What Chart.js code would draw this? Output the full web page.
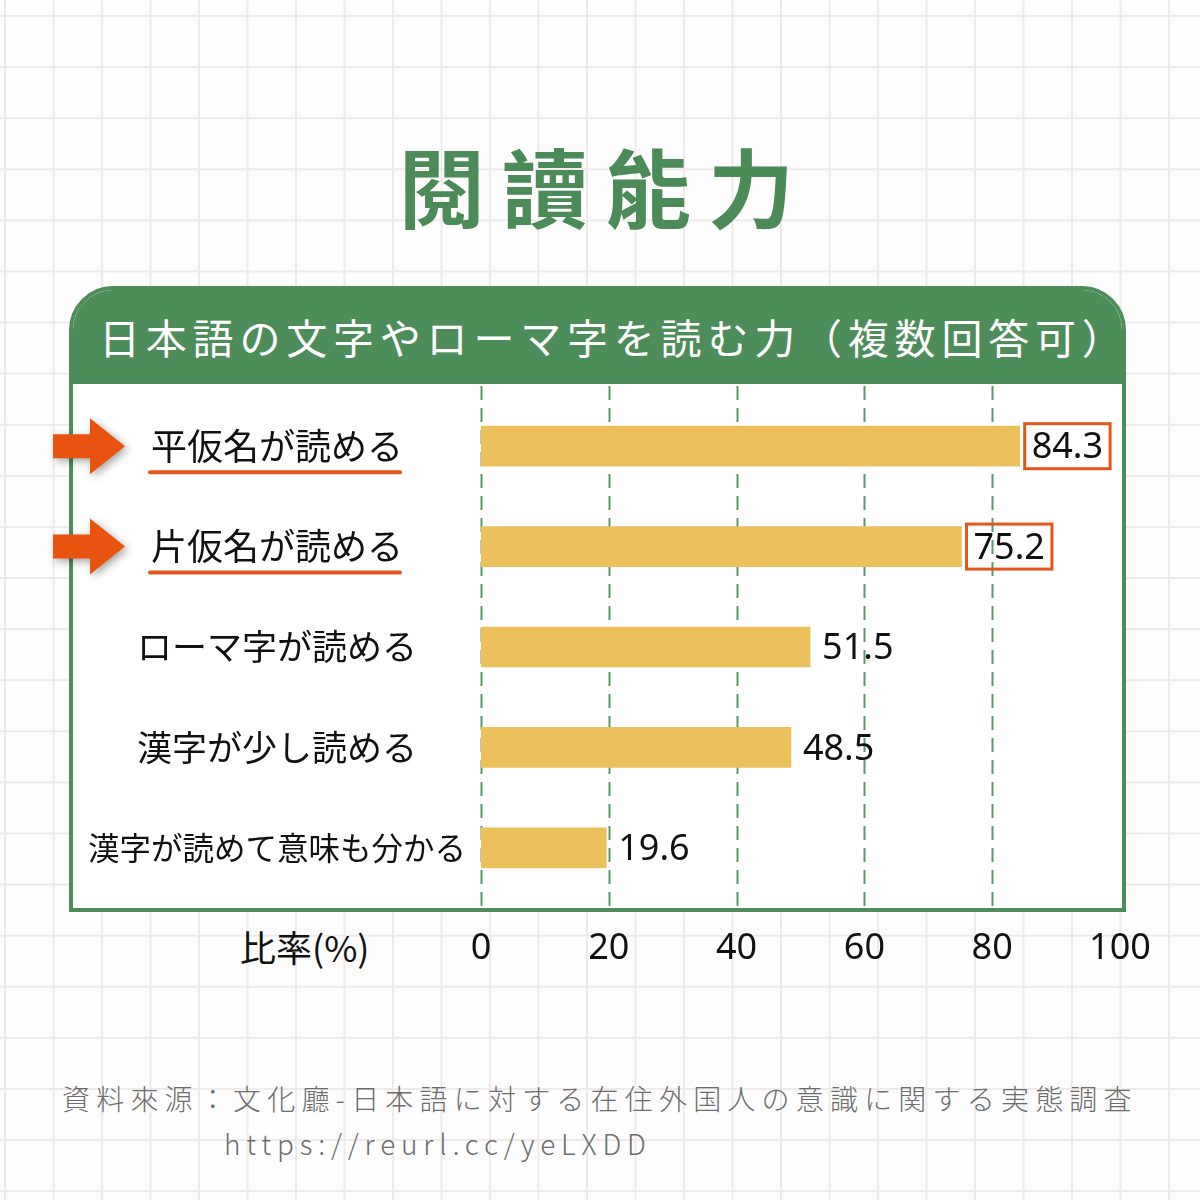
<!DOCTYPE html>
<html>
<head>
<meta charset="utf-8">
<script src="https://cdn.jsdelivr.net/npm/chart.js@4.4.1/dist/chart.umd.min.js"></script>
<style>
  html, body { margin: 0; padding: 0; }
  body {
    width: 1200px; height: 1200px; position: relative; overflow: hidden;
    background-color: #fdfdfd;
    background-image:
      linear-gradient(to right, #efeaea 2px, transparent 2px),
      linear-gradient(to bottom, #efeaea 2px, transparent 2px);
    background-size: 48.5px 51.1px;
    background-position: 4px 15px;
    font-family: "Noto Sans", "Noto Sans CJK JP", sans-serif;
  }
  .title {
    position: absolute; top: 142px; left: 0; width: 1200px; text-align: center;
    font-family: "Noto Sans CJK TC", sans-serif; font-weight: 700; font-size: 86px;
    line-height: 1; letter-spacing: 17px; padding-left: 10px; box-sizing: border-box;
    color: #4b8b57;
  }
  .box {
    position: absolute; left: 69px; top: 286px; width: 1057px; height: 626px;
    box-sizing: border-box; border: 4.5px solid #4d8d5a; border-radius: 44px 44px 0 0;
    background: #fff; overflow: hidden;
  }
  .box .head {
    position: absolute; left: 0; top: 0; right: 0; height: 94px; background: #4d8d5a;
    color: #fff; text-align: center; line-height: 92px; padding-left: 26px; box-sizing: border-box;
    font-family: "Noto Sans CJK JP", sans-serif; font-size: 41px; letter-spacing: 5.8px;
  }
  .xname {
    position: absolute; left: 240px; top: 925px; font-size: 36px; line-height: 1.2;
    font-family: "Noto Sans CJK JP", sans-serif; color: #111;
  }
  .src {
    position: absolute; color: #6d6d6d; font-weight: 300; font-size: 28px; line-height: 1.2;
    font-family: "Noto Sans CJK JP", sans-serif; white-space: nowrap;
  }
  canvas { position: absolute; left: 0; top: 0; }
</style>
</head>
<body>
<div class="title">閱讀能力</div>
<div class="box"><div class="head">日本語の文字やローマ字を読む力（複数回答可）</div></div>
<div class="xname">比率(%)</div>
<div class="src" style="left:62px;top:1082px;letter-spacing:6.2px;">資料來源：文化廳-日本語に対する在住外国人の意識に関する実態調査</div>
<div class="src" style="left:224px;top:1127px;letter-spacing:5.8px;">https://reurl.cc/yeLXDD</div>
<canvas id="chart" width="1200" height="1200"></canvas>

<script>
// データ
const categories = ['平仮名が読める', '片仮名が読める', 'ローマ字が読める', '漢字が少し読める', '漢字が読めて意味も分かる'];
const values = [84.3, 75.2, 51.5, 48.5, 19.6];
const highlighted = [true, true, false, false, false];
const xTicks = [0, 20, 40, 60, 80, 100];

const GREEN = '#4d8d5a';
const ORANGE = '#e4571b';
const BAR = '#ecc15c';
const LABEL_PAD = 7;

const labelSize = (i) => [36, 36, 35, 35, 31.5][i];

const decorPlugin = {
  id: 'decor',
  beforeDatasetsDraw(chart) {
    const { ctx, scales: { x } } = chart;
    ctx.save();
    ctx.strokeStyle = '#5b9868';
    ctx.lineWidth = 2;
    ctx.setLineDash([14, 8]);
    xTicks.forEach(v => {
      if (v >= 100) return;
      const px = Math.round(x.getPixelForValue(v)) + 0.5;
      ctx.beginPath();
      ctx.moveTo(px, 386);
      ctx.lineTo(px, 908);
      ctx.stroke();
    });
    ctx.restore();
  },
  afterDatasetsDraw(chart) {
    const { ctx, scales: { y } } = chart;
    const bars = chart.getDatasetMeta(0).data;
    ctx.save();

    // 値ラベル
    ctx.font = '36px "Noto Sans", sans-serif';
    ctx.textBaseline = 'middle';
    bars.forEach((bar, i) => {
      const txt = values[i].toFixed(1);
      const tx = bar.x + 12;
      const w = ctx.measureText(txt).width;
      ctx.fillStyle = '#111';
      ctx.fillText(txt, tx, bar.y + 2);
      if (highlighted[i]) {
        ctx.strokeStyle = ORANGE;
        ctx.lineWidth = 3;
        ctx.strokeRect(tx - 7, bar.y - 22.5, w + 14, 45);
      }
    });

    // 矢印と下線
    let widest = 0;
    categories.forEach((c, i) => {
      ctx.font = labelSize(i) + 'px "Noto Sans CJK JP", sans-serif';
      widest = Math.max(widest, ctx.measureText(c).width);
    });
    const cx = y.right - LABEL_PAD - widest / 2;
    categories.forEach((c, i) => {
      if (!highlighted[i]) return;
      const cy = y.getPixelForValue(i);
      ctx.font = labelSize(i) + 'px "Noto Sans CJK JP", sans-serif';
      const w = ctx.measureText(c).width;

      ctx.strokeStyle = ORANGE;
      ctx.lineWidth = 4;
      ctx.lineCap = 'round';
      ctx.beginPath();
      ctx.moveTo(cx - w / 2 - 9, cy + 26);
      ctx.lineTo(cx + w / 2 - 11, cy + 26);
      ctx.stroke();

      ctx.save();
      ctx.shadowColor = 'rgba(0,0,0,0.35)';
      ctx.shadowBlur = 9;
      ctx.shadowOffsetX = 3;
      ctx.shadowOffsetY = 3;
      ctx.fillStyle = '#e8540f';
      ctx.beginPath();
      ctx.moveTo(53, cy - 12);
      ctx.lineTo(90, cy - 12);
      ctx.lineTo(90, cy - 28);
      ctx.lineTo(125, cy);
      ctx.lineTo(90, cy + 28);
      ctx.lineTo(90, cy + 12);
      ctx.lineTo(53, cy + 12);
      ctx.closePath();
      ctx.fill();
      ctx.restore();
    });
    ctx.restore();
  }
};

new Chart(document.getElementById('chart'), {
  type: 'bar',
  data: {
    labels: categories,
    datasets: [{
      data: values,
      backgroundColor: BAR,
      barThickness: 40,
      borderWidth: 0
    }]
  },
  options: {
    indexAxis: 'y',
    responsive: false,
    animation: false,
    devicePixelRatio: 1,
    layout: { padding: { left: 0, right: 80, top: 396, bottom: 202 } },
    plugins: { legend: { display: false }, tooltip: { enabled: false } },
    scales: {
      x: {
        type: 'linear', min: 0, max: 100,
        afterBuildTicks: (axis) => { axis.ticks = xTicks.map(v => ({ value: v })); },
        afterFit: (axis) => { axis.height = 100; },
        grid: { display: false },
        border: { display: false },
        ticks: {
          padding: 21,
          color: '#111',
          font: { size: 36, family: '"Noto Sans", sans-serif' }
        }
      },
      y: {
        type: 'category',
        afterFit: (axis) => { axis.width = 481; },
        grid: { display: false },
        border: { display: false },
        ticks: {
          crossAlign: 'center',
          padding: LABEL_PAD,
          color: '#111',
          font: (ctx) => ({ size: labelSize(ctx.index), family: '"Noto Sans CJK JP", sans-serif' })
        }
      }
    }
  },
  plugins: [decorPlugin]
});
</script>
</body>
</html>
